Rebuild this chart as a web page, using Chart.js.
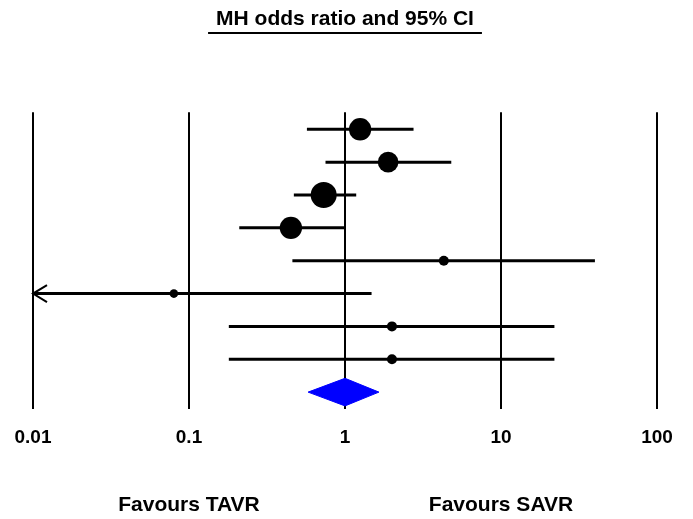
<!DOCTYPE html>
<html>
<head>
<meta charset="utf-8">
<script src="https://cdn.jsdelivr.net/npm/chart.js@4/dist/chart.umd.min.js"></script>
<style>
  html, body { margin: 0; padding: 0; background: #fff; }
  #wrap { width: 693px; height: 519px; }
</style>
</head>
<body>
<div id="wrap"><canvas id="myChart"></canvas></div>
<script>
// study rows, top to bottom
const oddsRatio = [1.25, 1.89, 0.73, 0.45, 4.3, 0.08, 2.0, 2.0];
const ciLower   = [0.57, 0.75, 0.47, 0.21, 0.46, 0.004, 0.18, 0.18];
const ciUpper   = [2.75, 4.8, 1.18, 0.99, 40, 1.48, 22, 22];
const weights   = [20, 17, 27, 20, 4, 3, 4, 4];

// pooled MH estimate (diamond)
const pooled = { or: 1.0, lo: 0.58, hi: 1.65 };

const tickValues = [0.01, 0.1, 1, 10, 100];
const tickLabels = ['0.01', '0.1', '1', '10', '100'];
const favourLabels = [
    { text: 'Favours TAVR', at: 0.1 },
    { text: 'Favours SAVR', at: 10 }
];
const titleText = 'MH odds ratio and 95% CI';

const X_MIN = 0.01, X_MAX = 100;
const FONT = "'Liberation Sans', Arial, Helvetica, sans-serif";

let datasets = [];

// confidence interval lines
for (let i = 0; i < oddsRatio.length; i++)
{
    datasets.push({
        type: 'line',
        data: [{ x: Math.max(ciLower[i], X_MIN), y: i }, { x: Math.min(ciUpper[i], X_MAX), y: i }],
        borderColor: '#000',
        borderWidth: 3,
        pointRadius: 0,
        fill: false,
        order: 3
    });
}

// point estimates, sized by weight
datasets.push({
    type: 'scatter',
    data: oddsRatio.map((v, i) => ({ x: v, y: i })),
    backgroundColor: '#000',
    borderColor: '#000',
    borderWidth: 0,
    pointRadius: weights.map(w => 2.5 * Math.sqrt(w)),
    order: 1
});

// pooled diamond
const dRow = oddsRatio.length;
const dHalf = 0.42;
datasets.push({
    type: 'line',
    data: [
        { x: pooled.lo, y: dRow },
        { x: pooled.or, y: dRow - dHalf },
        { x: pooled.hi, y: dRow },
        { x: pooled.or, y: dRow + dHalf },
        { x: pooled.lo, y: dRow }
    ],
    borderColor: '#0000ff',
    backgroundColor: '#0000ff',
    borderWidth: 1,
    pointRadius: 0,
    tension: 0,
    fill: 'shape',
    order: 0
});

const extras = {
    id: 'extras',
    afterDraw(chart)
    {
        const ctx = chart.ctx;
        const xs = chart.scales.x, ys = chart.scales.y;

        // arrow heads for truncated intervals
        ctx.save();
        ctx.strokeStyle = '#000';
        ctx.lineWidth = 2;
        for (let i = 0; i < ciLower.length; i++)
        {
            if (ciLower[i] < X_MIN)
            {
                const px = xs.getPixelForValue(X_MIN), py = ys.getPixelForValue(i);
                ctx.beginPath();
                ctx.moveTo(px + 14, py - 8.5);
                ctx.lineTo(px, py);
                ctx.lineTo(px + 14, py + 8.5);
                ctx.stroke();
            }
        }

        // favours labels
        ctx.fillStyle = '#000';
        ctx.font = 'bold 21px ' + FONT;
        ctx.textAlign = 'center';
        ctx.textBaseline = 'middle';
        favourLabels.forEach(f => {
            ctx.fillText(f.text, xs.getPixelForValue(f.at), chart.chartArea.bottom + 96);
        });

        // title underline
        const t = chart.titleBlock;
        ctx.font = 'bold 21px ' + FONT;
        const w = ctx.measureText(titleText).width;
        const cx = (chart.chartArea.left + chart.chartArea.right) / 2;
        const y = t.top + 7 + 25 + 1;
        ctx.lineWidth = 2;
        ctx.beginPath();
        ctx.moveTo(cx - w / 2 - 8, y);
        ctx.lineTo(cx + w / 2 + 8, y);
        ctx.stroke();
        ctx.restore();
    }
};

let chart_1 = new Chart(document.getElementById('myChart').getContext('2d'),
{
    type: 'scatter',
    data: { datasets: datasets },
    plugins: [extras],
    options:
    {
        responsive: true,
        maintainAspectRatio: false,
        animation: false,
        layout: { padding: { left: 33, right: 36, top: 0, bottom: 70 } },
        plugins:
        {
            legend: { display: false },
            tooltip: { enabled: false },
            title:
            {
                display: true,
                text: titleText,
                color: '#000',
                font: { family: FONT, size: 21, weight: 'bold' },
                padding: { top: 7, bottom: 80 }
            }
        },
        scales:
        {
            x:
            {
                type: 'logarithmic',
                min: X_MIN,
                max: X_MAX,
                afterBuildTicks: axis => { axis.ticks = tickValues.map(v => ({ value: v, major: true })); },
                border: { display: false },
                // invisible tick marks keep the label gap without widening the side padding
                grid: { color: '#000', lineWidth: 2, drawTicks: true, tickLength: 17, tickColor: 'rgba(0,0,0,0)' },
                ticks:
                {
                    autoSkip: false,
                    maxRotation: 0,
                    padding: 0,
                    color: '#000',
                    font: { family: FONT, size: 19, weight: 'bold' },
                    callback: (v, i) => tickLabels[i]
                }
            },
            y:
            {
                display: false,
                reverse: true,
                min: -0.52,
                max: 8.52
            }
        }
    }
});
</script>
</body>
</html>
